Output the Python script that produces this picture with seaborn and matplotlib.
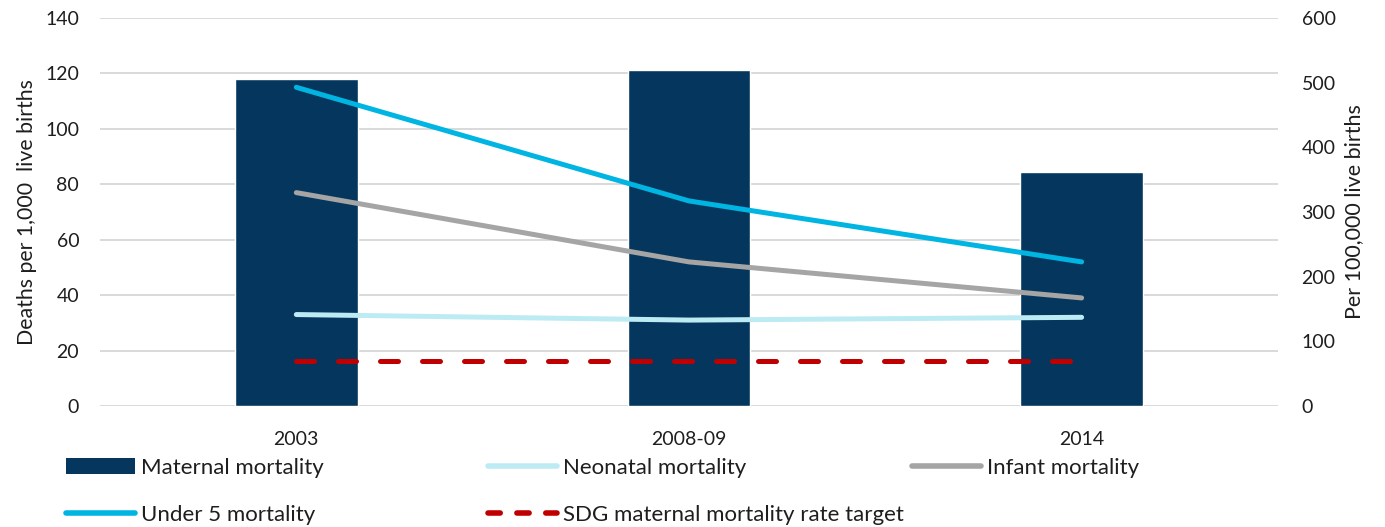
import numpy as np
import pandas as pd
import seaborn as sns
import matplotlib.pyplot as plt
from matplotlib.patches import Patch
from matplotlib.lines import Line2D

# Survey rounds
years = ["2003", "2008-09", "2014"]

# Maternal mortality ratio (per 100,000 live births, right axis)
maternal = [505, 520, 362]
sdg_target = [70, 70, 70]

# Child mortality rates (per 1,000 live births, left axis)
neonatal = [33, 31, 32]
infant = [77, 52, 39]
under5 = [115, 74, 52]

legend_labels = ["Maternal mortality", "Neonatal mortality", "Infant mortality",
                 "Under 5 mortality", "SDG maternal mortality rate target"]

NAVY = "#05375E"
LIGHT_CYAN = "#BDEBF3"
GREY = "#A5A5A5"
CYAN = "#00B5E2"
RED = "#C00000"
GRID = "#D9D9D9"
TEXT = "#1E1E1E"

sns.set_theme(style="white")
plt.rcParams["font.family"] = ["Lato", "DejaVu Sans"]

df = pd.DataFrame({
    "year": years,
    "maternal": maternal,
    "sdg": sdg_target,
    "neonatal": neonatal,
    "infant": infant,
    "under5": under5,
})

fig = plt.figure(figsize=(13.85, 5.27), dpi=100)
# Base axis: per-1,000 scale with its gridlines
ax = fig.add_axes([0.0722, 0.2296, 0.8505, 0.7362])
# Middle layer: per-100,000 scale for bars and the target line
ax2 = ax.twinx()
# Top layer: per-1,000 scale again, carrying the child mortality lines
ax3 = ax.twinx()

ax.set_zorder(0)
ax2.set_zorder(1)
ax3.set_zorder(2)
ax2.patch.set_visible(False)
ax3.patch.set_visible(False)

sns.barplot(data=df, x="year", y="maternal", ax=ax2, color=NAVY,
            saturation=1, width=0.313, errorbar=None)
sns.pointplot(data=df, x="year", y="sdg", ax=ax2, color=RED, markers="",
              errorbar=None, linewidth=3.6)
sdg_line = ax2.lines[-1]
sdg_line.set_linestyle((0, (3.6, 4.8)))
sdg_line.set_dash_capstyle("round")
sdg_line.set_zorder(5)

for col, colr in [("neonatal", LIGHT_CYAN), ("infant", GREY), ("under5", CYAN)]:
    sns.pointplot(data=df, x="year", y=col, ax=ax3, color=colr, markers="",
                  errorbar=None, linewidth=3.6)
    ax3.lines[-1].set_solid_capstyle("round")

ax.set_xlim(-0.5, len(years) - 0.5)
ax.set_ylim(0, 140)
ax.set_yticks(np.arange(0, 141, 20))
ax3.set_ylim(0, 140)
ax2.set_ylim(0, 600)
ax2.set_yticks(np.arange(0, 601, 100))
ax.set_xticks(range(len(years)), years)

for a in (ax, ax2, ax3):
    a.grid(False)
    for s in a.spines.values():
        s.set_visible(False)
    a.set_xlabel("")
ax.yaxis.grid(True, color=GRID, linewidth=1.4)
ax.set_axisbelow(True)
ax3.yaxis.set_visible(False)

ax.tick_params(axis="y", length=0, pad=15, labelsize=14, labelcolor=TEXT)
ax.tick_params(axis="x", length=0, pad=18, labelsize=14, labelcolor=TEXT)
ax2.tick_params(axis="y", length=0, pad=17, labelsize=14, labelcolor=TEXT)

ax.set_ylabel("Deaths per 1,000  live births", fontsize=15.3, color=TEXT, labelpad=6)
ax2.set_ylabel("Per 100,000 live births", fontsize=15.5, color=TEXT, labelpad=6)

# Legend, laid out in three fixed-width columns
handles = [
    Patch(facecolor=NAVY, edgecolor="none"),
    Line2D([], [], color=LIGHT_CYAN, lw=4, solid_capstyle="round"),
    Line2D([], [], color=GREY, lw=4, solid_capstyle="round"),
    Line2D([], [], color=CYAN, lw=4, solid_capstyle="round"),
    Line2D([], [], color=RED, lw=4, linestyle=(0, (2.2, 3.0)), dash_capstyle="round"),
]
columns = [[0, 3], [1, 4], [2]]
col_x = [66, 488, 912]
legend_font = {"family": ["Lato", "DejaVu Sans"], "size": 16}
for idx, x0 in zip(columns, col_x):
    leg = fig.legend([handles[i] for i in idx], [legend_labels[i] for i in idx],
                     loc="upper left", bbox_to_anchor=(x0 / 1385, 1 - 458 / 527),
                     frameon=False, borderpad=0, borderaxespad=0,
                     handlelength=3.1, handleheight=0.7, handletextpad=0.27,
                     labelspacing=1.2, prop=legend_font)
    for t in leg.get_texts():
        t.set_color(TEXT)

fig.savefig("out.png", dpi=100)
